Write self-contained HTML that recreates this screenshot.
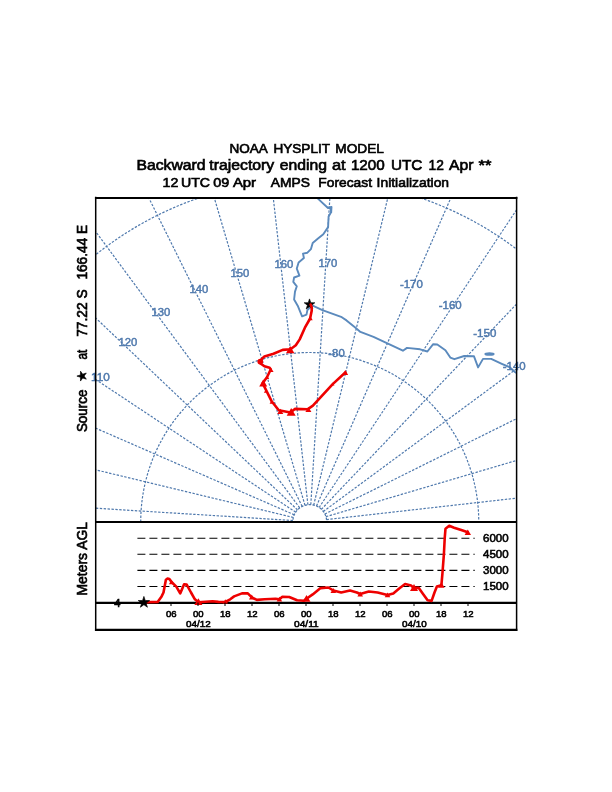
<!DOCTYPE html>
<html><head><meta charset="utf-8"><title>NOAA HYSPLIT MODEL</title>
<style>
html,body{margin:0;padding:0;background:#fff;}
body{width:612px;height:792px;overflow:hidden;}
svg{display:block;}
text{font-family:"Liberation Sans",Arial,Helvetica,sans-serif;}
.g{fill:none;stroke:#4f79ad;stroke-width:1.2;stroke-dasharray:2.4 1.5;}
.c{fill:none;stroke:#5b8abd;stroke-width:1.9;stroke-linejoin:round;stroke-linecap:round;}
.l{fill:#4f79ad;font-size:10.8px;text-anchor:middle;stroke:#4f79ad;stroke-width:0.45;}
.t{fill:none;stroke:#ee0000;stroke-width:2.6;stroke-linejoin:round;stroke-linecap:round;}
.m{fill:#ee0000;stroke:none;}
.k{fill:#000;stroke:#000;stroke-width:0.65;}
.d{fill:none;stroke:#000;stroke-width:1.1;stroke-dasharray:8 4;}
.x{fill:#000;font-size:9px;text-anchor:middle;stroke:#000;stroke-width:0.55;}
</style></head><body>
<svg width="612" height="792" viewBox="0 0 612 792">
<rect x="0" y="0" width="612" height="792" fill="#fff"/>

<text class="k" x="229.4" y="152.5" font-size="13.5" textLength="38.4" lengthAdjust="spacingAndGlyphs">NOAA</text>
<text class="k" x="273.5" y="152.5" font-size="13.5" textLength="56.5" lengthAdjust="spacingAndGlyphs">HYSPLIT</text>
<text class="k" x="335.3" y="152.5" font-size="13.5" textLength="48.6" lengthAdjust="spacingAndGlyphs">MODEL</text>
<text class="k" x="136.4" y="170.0" font-size="15.2" textLength="69.2" lengthAdjust="spacingAndGlyphs">Backward</text>
<text class="k" x="209.3" y="170.0" font-size="15.2" textLength="64.9" lengthAdjust="spacingAndGlyphs">trajectory</text>
<text class="k" x="279.8" y="170.0" font-size="15.2" textLength="47.2" lengthAdjust="spacingAndGlyphs">ending</text>
<text class="k" x="331.9" y="170.0" font-size="15.2" textLength="13.7" lengthAdjust="spacingAndGlyphs">at</text>
<text class="k" x="350.9" y="170.0" font-size="15.2" textLength="33.9" lengthAdjust="spacingAndGlyphs">1200</text>
<text class="k" x="390.9" y="170.0" font-size="15.2" textLength="31.4" lengthAdjust="spacingAndGlyphs">UTC</text>
<text class="k" x="428.5" y="170.0" font-size="15.2" textLength="15.3" lengthAdjust="spacingAndGlyphs">12</text>
<text class="k" x="449.1" y="170.0" font-size="15.2" textLength="24.4" lengthAdjust="spacingAndGlyphs">Apr</text>
<text class="k" x="478.5" y="170.0" font-size="15.2" textLength="13.0" lengthAdjust="spacingAndGlyphs">**</text>
<text class="k" x="162.5" y="187.2" font-size="13.7" textLength="15.8" lengthAdjust="spacingAndGlyphs">12</text>
<text class="k" x="181.0" y="187.2" font-size="13.7" textLength="29.1" lengthAdjust="spacingAndGlyphs">UTC</text>
<text class="k" x="213.3" y="187.2" font-size="13.7" textLength="16.0" lengthAdjust="spacingAndGlyphs">09</text>
<text class="k" x="232.9" y="187.2" font-size="13.7" textLength="23.2" lengthAdjust="spacingAndGlyphs">Apr</text>
<text class="k" x="270.8" y="187.2" font-size="13.7" textLength="39.1" lengthAdjust="spacingAndGlyphs">AMPS</text>
<text class="k" x="318.3" y="187.2" font-size="13.7" textLength="53.7" lengthAdjust="spacingAndGlyphs">Forecast</text>
<text class="k" x="376.6" y="187.2" font-size="13.7" textLength="72.5" lengthAdjust="spacingAndGlyphs">Initialization</text>
<defs><clipPath id="cm"><rect x="95.7" y="197.7" width="420.90000000000003" height="323.8"/></clipPath></defs>
<g clip-path="url(#cm)">
<line class="g" x1="292.9" y1="520.5" x2="-149.4" y2="492.9"/>
<line class="g" x1="293.4" y1="517.5" x2="-137.4" y2="413.6"/>
<line class="g" x1="294.3" y1="514.8" x2="-111.9" y2="337.6"/>
<line class="g" x1="295.7" y1="512.2" x2="-73.6" y2="267.2"/>
<line class="g" x1="297.5" y1="509.9" x2="-23.6" y2="204.5"/>
<line class="g" x1="299.7" y1="507.9" x2="36.5" y2="151.4"/>
<line class="g" x1="302.2" y1="506.4" x2="104.9" y2="109.6"/>
<line class="g" x1="305.0" y1="505.3" x2="179.6" y2="80.3"/>
<line class="g" x1="307.9" y1="504.7" x2="258.2" y2="64.4"/>
<line class="g" x1="310.8" y1="504.7" x2="338.3" y2="62.4"/>
<line class="g" x1="313.7" y1="505.1" x2="417.6" y2="74.3"/>
<line class="g" x1="316.5" y1="506.0" x2="493.6" y2="99.8"/>
<line class="g" x1="319.1" y1="507.5" x2="564.0" y2="138.2"/>
<line class="g" x1="321.4" y1="509.3" x2="626.7" y2="188.2"/>
<line class="g" x1="323.3" y1="511.5" x2="679.8" y2="248.3"/>
<line class="g" x1="324.8" y1="514.0" x2="721.6" y2="316.7"/>
<line class="g" x1="325.9" y1="516.7" x2="750.9" y2="391.3"/>
<line class="g" x1="326.5" y1="519.6" x2="766.8" y2="469.9"/>
<circle class="g" cx="309.75" cy="521.5" r="16.9"/>
<circle class="g" cx="309.75" cy="521.5" r="169.0"/>
<circle class="g" cx="309.75" cy="521.5" r="342.0"/>
<polyline class="c" points="317.1,197.9 327.7,207.7 330.4,208.6 331.2,212.1 328.6,216.5 328.1,227.1 323.3,234.2 318,238.6 312.7,243 310.9,249.2 307.4,252.7 303,253.6 303.9,258 298.6,262.4 296.8,268.6 299.4,275.7 294.1,277.5 293.3,281.9 296.8,286.3 295,291.6 294.1,299.5 297.7,305.7 302.1,316.3 306.5,314.6 307.4,310.1 310,307.5"/>
<polyline class="c" points="310,304.5 312.7,305.7 322.4,310.1 341.8,317.2 346.5,320.4 355.5,327.8 360.4,331.9 373.5,336.8 387.4,343.3 402.9,350.7 407,347.9 420.1,349.3 427.4,351.5 433.2,344.2 437.3,344.5 445.4,350.2 450.3,357.6 454.4,359.2 464.2,356 474,356.3 478.1,367.4 483,358.9 491.2,358.9 501.8,363.8 510,367.4 514.9,372 518,374"/>
<polyline class="c" points="327.7,207.7 331.5,207 331.2,212.1"/>
<ellipse class="c" cx="489.5" cy="354" rx="4.2" ry="0.9" stroke-width="1"/>
</g>
<text class="l" x="100.4" y="381" textLength="18.8" lengthAdjust="spacingAndGlyphs">110</text>
<text class="l" x="127.8" y="345.5" textLength="18.8" lengthAdjust="spacingAndGlyphs">120</text>
<text class="l" x="160.8" y="316" textLength="18.8" lengthAdjust="spacingAndGlyphs">130</text>
<text class="l" x="198.8" y="293" textLength="18.8" lengthAdjust="spacingAndGlyphs">140</text>
<text class="l" x="239.8" y="277" textLength="18.8" lengthAdjust="spacingAndGlyphs">150</text>
<text class="l" x="283.8" y="268" textLength="18.8" lengthAdjust="spacingAndGlyphs">160</text>
<text class="l" x="327.8" y="266.8" textLength="18.8" lengthAdjust="spacingAndGlyphs">170</text>
<text class="l" x="411.4" y="288" textLength="23.0" lengthAdjust="spacingAndGlyphs">-170</text>
<text class="l" x="450.2" y="309" textLength="23.0" lengthAdjust="spacingAndGlyphs">-160</text>
<text class="l" x="484.8" y="336.6" textLength="23.0" lengthAdjust="spacingAndGlyphs">-150</text>
<text class="l" x="514.2" y="370.3" textLength="23.0" lengthAdjust="spacingAndGlyphs">-140</text>
<text class="l" x="336.5" y="357" textLength="16.4" lengthAdjust="spacingAndGlyphs">-80</text>
<polygon class="k" points="309.50,298.90 310.79,302.72 314.83,302.77 311.59,305.18 312.79,309.03 309.50,306.70 306.21,309.03 307.41,305.18 304.17,302.77 308.21,302.72"/>
<polyline class="t" points="310.6,304.5 311.6,307 311.7,310.7 310.1,318.5 304.9,327.7 299.7,339.4 295.8,345.3 290.5,349.2 282.7,349.9 273.5,353.8 264.4,356.4 259.9,361 260.5,363.5 264.4,366.2 269.6,367.8 270.7,369.5 267.1,377 262.6,383.2 266.2,390.4 271.6,401.2 278.8,410.2 290.4,412.5 294.9,408.9 307.5,409.3 312.9,405.7 332.7,384.1 345.3,372.5"/>
<path class="m" d="M307.9,320.3 L312.7,320.3 L310.3,316.3 Z"/>
<path class="m" d="M286.0,353.2 L294.4,353.2 L290.2,346.0 Z"/>
<path class="m" d="M268.8,371.9 L273.6,371.9 L271.2,367.9 Z"/>
<path class="m" d="M266.0,379.0 L269.2,379.0 L267.6,376.2 Z"/>
<path class="m" d="M259.2,386.4 L267.2,386.4 L263.2,379.6 Z"/>
<path class="m" d="M263.9,392.8 L268.1,392.8 L266.0,389.2 Z"/>
<path class="m" d="M269.6,403.7 L273.8,403.7 L271.7,400.1 Z"/>
<path class="m" d="M277.3,413.9 L283.3,413.9 L280.3,408.8 Z"/>
<path class="m" d="M286.7,415.7 L295.7,415.7 L291.2,408.1 Z"/>
<path class="m" d="M305.4,412.1 L311.4,412.1 L308.4,406.9 Z"/>
<path class="m" d="M330.9,385.6 L334.5,385.6 L332.7,382.6 Z"/>
<path class="m" d="M342.5,374.9 L348.1,374.9 L345.3,370.1 Z"/>
<circle class="m" cx="260.3" cy="361.6" r="2.9"/>
<path d="M95.7,196.7 V631.0 M516.6,196.7 V631.0" fill="none" stroke="#000" stroke-width="1.5"/>
<path d="M94.95,197.89999999999998 H517.35 M95.7,522.0 H516.6" fill="none" stroke="#000" stroke-width="2"/>
<path d="M94.95,629.9 H517.35" fill="none" stroke="#000" stroke-width="2.2"/>
<line class="d" x1="137.4" y1="586.5" x2="474.7" y2="586.5"/>
<text class="k" x="483" y="590.2" font-size="10.4" textLength="25.6" lengthAdjust="spacingAndGlyphs" style="stroke-width:0.55">1500</text>
<line class="d" x1="137.4" y1="570.4" x2="474.7" y2="570.4"/>
<text class="k" x="483" y="574.1" font-size="10.4" textLength="25.6" lengthAdjust="spacingAndGlyphs" style="stroke-width:0.55">3000</text>
<line class="d" x1="137.4" y1="554.3" x2="474.7" y2="554.3"/>
<text class="k" x="483" y="558.0" font-size="10.4" textLength="25.6" lengthAdjust="spacingAndGlyphs" style="stroke-width:0.55">4500</text>
<line class="d" x1="137.4" y1="538.2" x2="474.7" y2="538.2"/>
<text class="k" x="483" y="541.9" font-size="10.4" textLength="25.6" lengthAdjust="spacingAndGlyphs" style="stroke-width:0.55">6000</text>
<line x1="95.7" y1="602.9" x2="516.6" y2="602.9" stroke="#000" stroke-width="2.4"/>
<polyline class="t" stroke-width="2.7" points="145.9,602.3 157.6,601.9 161.6,596.4 163.5,592.5 165.9,579.7 167.5,578.6 169.4,579.1 171.8,582.3 176.3,586.6 180.2,593.4 184.1,584.2 186.7,584.6 191,592.5 194.9,599.3 198.4,602.3 212.5,601.3 218.4,601.9 225.3,602.0 230.2,599.3 234.1,596.4 242,593.4 247.8,593.4 251.8,597.4 256.9,599.9 264.7,599.3 275.5,598.7 279.4,599.3 282.4,596.8 289.2,597 297.1,600.3 303.9,600.7 306.5,598.7 312.7,594.4 320.6,588.1 328.4,587.5 333.3,590.5 341.2,592.5 350,590.5 356.9,592.5 360.2,594 368.8,591.5 377.6,592.5 387.5,595 393.3,593.4 399.2,588.5 405.1,584 411,585.6 413.9,587.9 418.8,587.9 422.7,593.4 427.6,600.3 431.6,600.9 434.5,592.5 436.9,586.6 441.4,585.2 442.4,573.8 443.9,554.2 444.7,538.5 445.5,528.7 449.2,525.8 454.1,527.7 462,530.3 467.8,532.3"/>
<path class="m" d="M168.9,584.2 L174.1,584.2 L171.5,579.8 Z"/>
<path class="m" d="M194.4,605.0 L202.4,605.0 L198.4,598.2 Z"/>
<path class="m" d="M222.7,603.6 L227.9,603.6 L225.3,599.2 Z"/>
<path class="m" d="M249.0,599.4 L254.6,599.4 L251.8,594.6 Z"/>
<path class="m" d="M276.6,601.6 L282.2,601.6 L279.4,596.8 Z"/>
<path class="m" d="M302.5,601.8 L310.5,601.8 L306.5,595.0 Z"/>
<path class="m" d="M330.5,592.9 L336.1,592.9 L333.3,588.1 Z"/>
<path class="m" d="M357.4,596.4 L363.0,596.4 L360.2,591.6 Z"/>
<path class="m" d="M384.7,597.2 L390.3,597.2 L387.5,592.4 Z"/>
<path class="m" d="M410.0,590.9 L418.0,590.9 L414.0,584.1 Z"/>
<path class="m" d="M438.2,587.7 L444.6,587.7 L441.4,582.3 Z"/>
<path class="m" d="M464.6,535.0 L471.0,535.0 L467.8,529.6 Z"/>
<polygon class="k" points="143.90,596.40 145.25,600.54 149.61,600.55 146.09,603.11 147.43,607.25 143.90,604.70 140.37,607.25 141.71,603.11 138.19,600.55 142.55,600.54"/>
<text class="k" x="117.3" y="606.9" font-size="11.2" text-anchor="middle">4</text>
<line x1="171" y1="602.6" x2="171" y2="606.0" stroke="#000" stroke-width="1"/>
<text class="x" x="171.3" y="616.7" textLength="10.6" lengthAdjust="spacingAndGlyphs">06</text>
<line x1="198" y1="602.6" x2="198" y2="606.0" stroke="#000" stroke-width="1"/>
<text class="x" x="198.3" y="616.7" textLength="10.6" lengthAdjust="spacingAndGlyphs">00</text>
<line x1="225" y1="602.6" x2="225" y2="606.0" stroke="#000" stroke-width="1"/>
<text class="x" x="225.3" y="616.7" textLength="10.6" lengthAdjust="spacingAndGlyphs">18</text>
<line x1="252" y1="602.6" x2="252" y2="606.0" stroke="#000" stroke-width="1"/>
<text class="x" x="252.3" y="616.7" textLength="10.6" lengthAdjust="spacingAndGlyphs">12</text>
<line x1="279" y1="602.6" x2="279" y2="606.0" stroke="#000" stroke-width="1"/>
<text class="x" x="279.3" y="616.7" textLength="10.6" lengthAdjust="spacingAndGlyphs">06</text>
<line x1="306" y1="602.6" x2="306" y2="606.0" stroke="#000" stroke-width="1"/>
<text class="x" x="306.3" y="616.7" textLength="10.6" lengthAdjust="spacingAndGlyphs">00</text>
<line x1="333" y1="602.6" x2="333" y2="606.0" stroke="#000" stroke-width="1"/>
<text class="x" x="333.3" y="616.7" textLength="10.6" lengthAdjust="spacingAndGlyphs">18</text>
<line x1="360" y1="602.6" x2="360" y2="606.0" stroke="#000" stroke-width="1"/>
<text class="x" x="360.3" y="616.7" textLength="10.6" lengthAdjust="spacingAndGlyphs">12</text>
<line x1="387" y1="602.6" x2="387" y2="606.0" stroke="#000" stroke-width="1"/>
<text class="x" x="387.3" y="616.7" textLength="10.6" lengthAdjust="spacingAndGlyphs">06</text>
<line x1="414" y1="602.6" x2="414" y2="606.0" stroke="#000" stroke-width="1"/>
<text class="x" x="414.3" y="616.7" textLength="10.6" lengthAdjust="spacingAndGlyphs">00</text>
<line x1="441" y1="602.6" x2="441" y2="606.0" stroke="#000" stroke-width="1"/>
<text class="x" x="441.3" y="616.7" textLength="10.6" lengthAdjust="spacingAndGlyphs">18</text>
<line x1="468" y1="602.6" x2="468" y2="606.0" stroke="#000" stroke-width="1"/>
<text class="x" x="468.3" y="616.7" textLength="10.6" lengthAdjust="spacingAndGlyphs">12</text>
<text class="x" x="198.4" y="626.8" textLength="24.6" lengthAdjust="spacingAndGlyphs">04/12</text>
<text class="x" x="306.4" y="626.8" textLength="24.6" lengthAdjust="spacingAndGlyphs">04/11</text>
<text class="x" x="414.4" y="626.8" textLength="24.6" lengthAdjust="spacingAndGlyphs">04/10</text>
<g transform="translate(87,432.1) rotate(-90)"><text class="k" x="0" y="0" font-size="13.8" textLength="42.5" lengthAdjust="spacingAndGlyphs">Source</text><polygon class="k" points="56.00,-10.10 57.18,-6.52 60.95,-6.51 57.90,-4.28 59.06,-0.69 56.00,-2.90 52.94,-0.69 54.10,-4.28 51.05,-6.51 54.82,-6.52"/><text class="k" x="72.7" y="0" font-size="13.8" textLength="9.8" lengthAdjust="spacingAndGlyphs">at</text><text class="k" x="95.3" y="0" font-size="13.8" textLength="47.4" lengthAdjust="spacingAndGlyphs">77.22 S</text><text class="k" x="152.5" y="0" font-size="13.8" textLength="54.7" lengthAdjust="spacingAndGlyphs">166.44 E</text></g>
<g transform="translate(87.2,595.5) rotate(-90)"><text class="k" x="0" y="0" font-size="14" textLength="73.5" lengthAdjust="spacingAndGlyphs">Meters AGL</text></g>
</svg></body></html>
